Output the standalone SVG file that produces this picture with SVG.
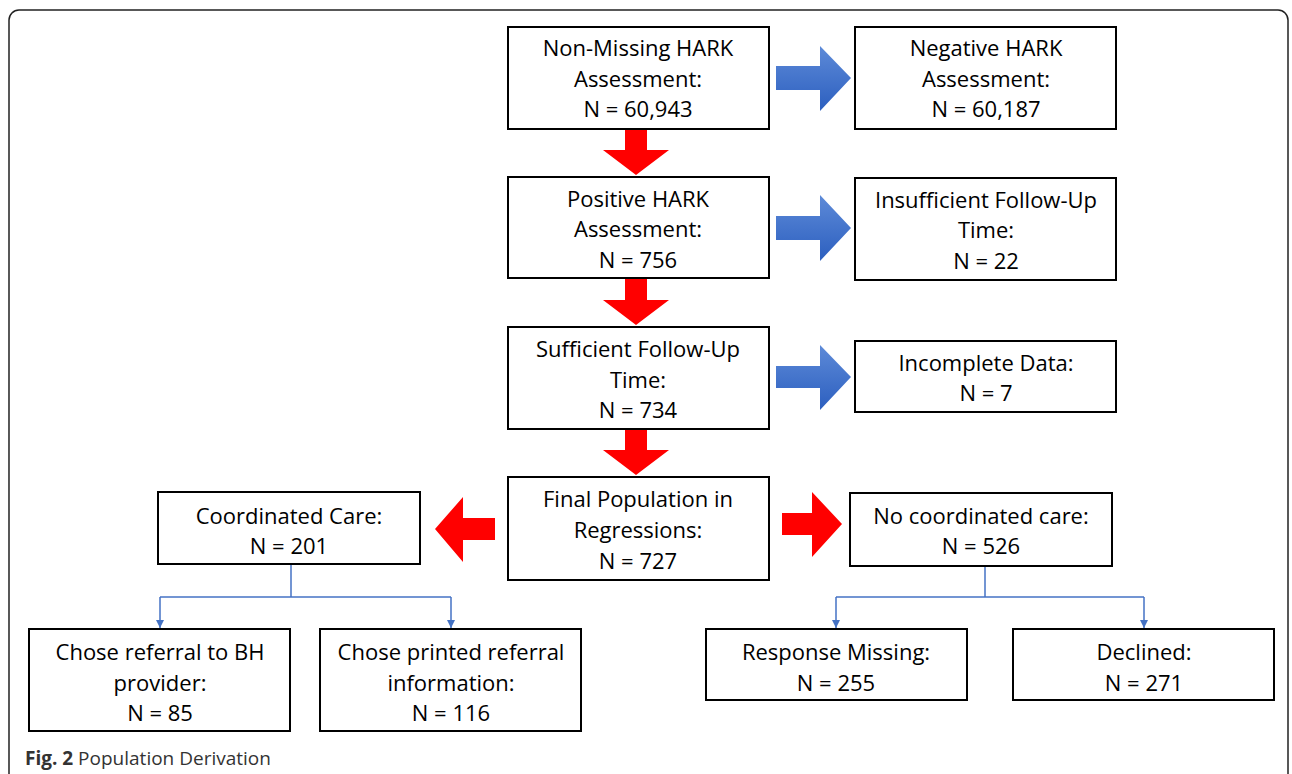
<svg xmlns="http://www.w3.org/2000/svg" width="1292" height="774" viewBox="0 0 1292 774">
<defs>
<style>
.box{fill:#fff;stroke:#000;stroke-width:2}
.t{font-family:"Open Sans","Liberation Sans",sans-serif;font-size:22px;fill:#000;text-anchor:middle;dominant-baseline:central}
.red{fill:#ff0000}
.blue{fill:url(#bg)}
.conn{fill:none;stroke:#4472c4;stroke-width:1.5}
.cap{font-family:"Open Sans","Liberation Sans",sans-serif;font-size:19px;fill:#333}
</style>
<linearGradient id="bg" x1="0" y1="0" x2="0" y2="1">
<stop offset="0" stop-color="#5d8ad8"/>
<stop offset="1" stop-color="#2c5fbf"/>
</linearGradient>
<marker id="ah" viewBox="0 0 10 10" refX="10" refY="5" markerWidth="8" markerHeight="8" markerUnits="userSpaceOnUse" orient="auto">
<path d="M0,0 L10,5 L0,10 z" fill="#4472c4"/>
</marker>
</defs>
<rect x="9" y="10" width="1279" height="800" rx="10" fill="#fff" stroke="#222" stroke-width="1.5"/>

<g id="connectors">
<path class="red" d="M625,129 H647 V150 H669 L636,175 L603,150 H625 Z"/>
<path class="red" d="M625,279 H647 V300 H669 L636,325 L603,300 H625 Z"/>
<path class="red" d="M625,429 H647 V450 H669 L636,475 L603,450 H625 Z"/>
<path class="blue" d="M776,66 H820 V46 L851,78 L820,111 V90 H776 Z"/>
<path class="blue" d="M776,216 H820 V195 L851,228 L820,261 V240 H776 Z"/>
<path class="blue" d="M776,366 H820 V345 L851,377 L820,410 V388 H776 Z"/>
<path class="red" d="M495,518 V540 H463 V562 L435,529 L463,497 V518 Z"/>
<path class="red" d="M782,513 H812 V492 L842,524 L812,557 V535 H782 Z"/>
<path class="conn" d="M291,565 V597"/>
<path class="conn" d="M160,597 H451"/>
<path class="conn" d="M160,597 V628" marker-end="url(#ah)"/>
<path class="conn" d="M451,597 V628" marker-end="url(#ah)"/>
<path class="conn" d="M985,567 V597"/>
<path class="conn" d="M836,597 H1144"/>
<path class="conn" d="M836,597 V628" marker-end="url(#ah)"/>
<path class="conn" d="M1144,597 V628" marker-end="url(#ah)"/>
</g>

<g id="n1"><rect class="box" x="508" y="27" width="261" height="102"/>
<text class="t" x="638" y="47">Non-Missing HARK</text><text class="t" x="638" y="78">Assessment:</text><text class="t" x="638" y="108">N = 60,943</text></g>
<g id="n2"><rect class="box" x="855" y="27" width="261" height="102"/>
<text class="t" x="986" y="47">Negative HARK</text><text class="t" x="986" y="78">Assessment:</text><text class="t" x="986" y="108">N = 60,187</text></g>
<g id="n3"><rect class="box" x="508" y="177" width="261" height="101"/>
<text class="t" x="638" y="198">Positive HARK</text><text class="t" x="638" y="228">Assessment:</text><text class="t" x="638" y="259">N = 756</text></g>
<g id="n4"><rect class="box" x="855" y="178" width="261" height="102"/>
<text class="t" x="986" y="199">Insufficient Follow-Up</text><text class="t" x="986" y="229">Time:</text><text class="t" x="986" y="260">N = 22</text></g>
<g id="n5"><rect class="box" x="508" y="327" width="261" height="102"/>
<text class="t" x="638" y="348">Sufficient Follow-Up</text><text class="t" x="638" y="379">Time:</text><text class="t" x="638" y="409">N = 734</text></g>
<g id="n6"><rect class="box" x="855" y="341" width="261" height="71"/>
<text class="t" x="986" y="362">Incomplete Data:</text><text class="t" x="986" y="392">N = 7</text></g>
<g id="n7"><rect class="box" x="508" y="477" width="261" height="103"/>
<text class="t" x="638" y="498">Final Population in</text><text class="t" x="638" y="529">Regressions:</text><text class="t" x="638" y="560">N = 727</text></g>
<g id="n8"><rect class="box" x="158" y="492" width="262" height="72"/>
<text class="t" x="289" y="515">Coordinated Care:</text><text class="t" x="289" y="545">N = 201</text></g>
<g id="n9"><rect class="box" x="850" y="493" width="262" height="73"/>
<text class="t" x="981" y="515">No coordinated care:</text><text class="t" x="981" y="545">N = 526</text></g>
<g id="n10"><rect class="box" x="29" y="629" width="261" height="102"/>
<text class="t" x="160" y="651">Chose referral to BH</text><text class="t" x="160" y="682">provider:</text><text class="t" x="160" y="712">N = 85</text></g>
<g id="n11"><rect class="box" x="320" y="629" width="261" height="102"/>
<text class="t" x="451" y="651">Chose printed referral</text><text class="t" x="451" y="682">information:</text><text class="t" x="451" y="712">N = 116</text></g>
<g id="n12"><rect class="box" x="706" y="629" width="261" height="71"/>
<text class="t" x="836" y="651">Response Missing:</text><text class="t" x="836" y="682">N = 255</text></g>
<g id="n13"><rect class="box" x="1013" y="629" width="261" height="71"/>
<text class="t" x="1144" y="651">Declined:</text><text class="t" x="1144" y="682">N = 271</text></g>

<text class="cap" x="25" y="765"><tspan font-weight="bold">Fig. 2</tspan> Population Derivation</text>
</svg>
